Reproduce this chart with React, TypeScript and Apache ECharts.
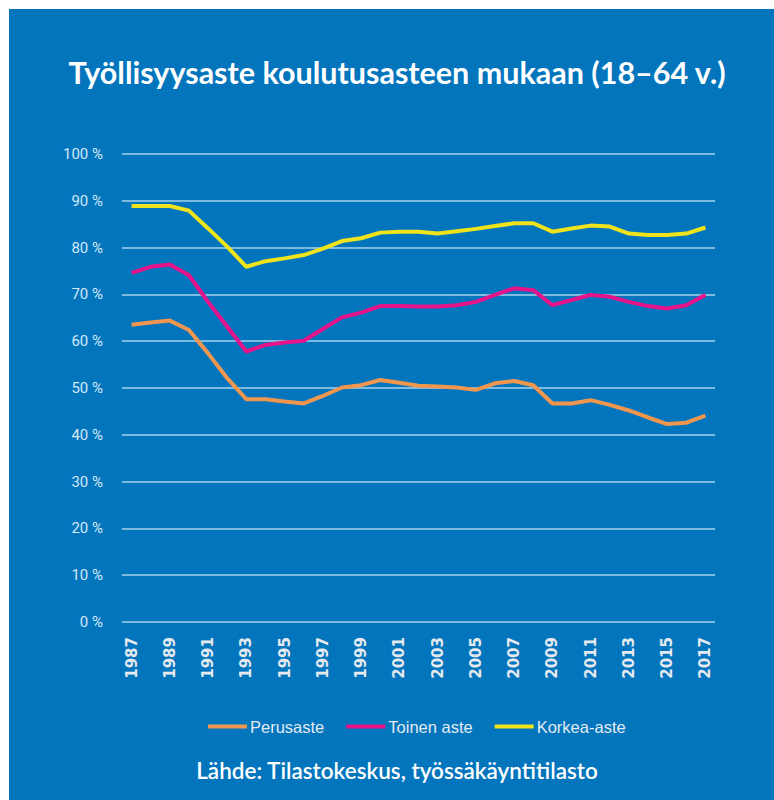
import React, { useEffect, useRef } from "react";
import * as echarts from "echarts";

const years = [
  "1987", "1988", "1989", "1990", "1991", "1992", "1993", "1994", "1995", "1996",
  "1997", "1998", "1999", "2000", "2001", "2002", "2003", "2004", "2005", "2006",
  "2007", "2008", "2009", "2010", "2011", "2012", "2013", "2014", "2015", "2016", "2017",
];
const perusaste = [
  63.5, 64.0, 64.4, 62.4, 57.4, 52.1, 47.6, 47.6, 47.1, 46.7,
  48.3, 50.1, 50.6, 51.7, 51.1, 50.5, 50.3, 50.1, 49.6, 51.0,
  51.5, 50.6, 46.7, 46.7, 47.4, 46.4, 45.2, 43.7, 42.3, 42.6, 44.1,
];
const toinenAste = [
  74.6, 75.9, 76.4, 74.1, 68.4, 63.1, 57.8, 59.2, 59.7, 60.1,
  62.6, 65.1, 66.1, 67.5, 67.5, 67.4, 67.4, 67.7, 68.4, 69.9,
  71.3, 70.9, 67.7, 68.8, 69.9, 69.5, 68.4, 67.5, 67.0, 67.7, 69.9,
];
const korkeaAste = [
  88.9, 88.9, 88.9, 87.9, 84.1, 80.2, 75.9, 77.1, 77.7, 78.4,
  79.8, 81.4, 82.0, 83.2, 83.4, 83.4, 83.0, 83.5, 84.0, 84.6,
  85.2, 85.2, 83.4, 84.1, 84.7, 84.5, 83.0, 82.7, 82.7, 83.0, 84.3,
];
const seriesNames = ["Perusaste", "Toinen aste", "Korkea-aste"];
const seriesColors = ["#f0964e", "#e5148a", "#efe31c"];

const title = "Työllisyysaste koulutusasteen mukaan (18–64 v.)";
const source = "Lähde: Tilastokeskus, työssäkäyntitilasto";

export default function App() {
  const ref = useRef<HTMLDivElement>(null);
  useEffect(() => {
    if (!ref.current) return;
    const chart = echarts.init(ref.current, undefined, { renderer: "svg" });
    const values = [perusaste, toinenAste, korkeaAste];
    chart.setOption({
      animation: false,
      backgroundColor: "transparent",
      title: {
        text: title,
        left: 392,
        textAlign: "center",
        top: 51,
        textStyle: { color: "#ffffff", fontSize: 30.5, fontWeight: "bold", fontFamily: "Lato" },
      },
      graphic: [
        {
          type: "text",
          x: 397,
          y: 770,
          style: {
            text: source,
            fill: "#ffffff",
            fontSize: 22.5,
            fontWeight: 600,
            fontFamily: "Lato",
            textAlign: "center",
            textVerticalAlign: "middle",
          },
        },
      ],
      legend: {
        left: 203,
        top: 713,
        itemWidth: 39,
        itemHeight: 4,
        itemGap: 22,
        icon: "rect",
        textStyle: { color: "#e4ebf2", fontSize: 16.5, fontFamily: "Liberation Sans", padding: [0, 0, 0, -2] },
        data: seriesNames,
      },
      grid: { left: 122, right: 59, top: 154, bottom: 178, containLabel: false },
      xAxis: {
        type: "category",
        data: years,
        boundaryGap: true,
        axisLine: { show: false },
        axisTick: { show: false },
        axisLabel: {
          interval: 1,
          rotate: 90,
          margin: 15,
          color: "#e6eaef",
          fontSize: 15,
          fontWeight: "bold",
          fontFamily: "DejaVu Sans",
        },
      },
      yAxis: {
        type: "value",
        min: 0,
        max: 100,
        interval: 10,
        axisLine: { show: false },
        axisTick: { show: false },
        axisLabel: {
          formatter: "{value} %",
          color: "#d3e9f7",
          fontSize: 15,
          fontFamily: "Roboto",
          margin: 19,
        },
        splitLine: { lineStyle: { color: "#a9d3ee", width: 1.5 } },
      },
      series: values.map((v, i) => ({
        name: seriesNames[i],
        type: "line",
        data: v,
        symbol: "none",
        smooth: false,
        lineStyle: { color: seriesColors[i], width: 4 },
        itemStyle: { color: seriesColors[i] },
      })),
    });
    return () => chart.dispose();
  }, []);
  return (
    <div style={{ position: "absolute", left: 0, top: 0, width: 774, height: 800, background: "#ffffff" }}>
      <div style={{ position: "absolute", left: 9, top: 9, width: 765, height: 791, background: "#0275bd" }} />
      <div ref={ref} style={{ position: "absolute", left: 0, top: 0, width: 774, height: 800 }} />
    </div>
  );
}
